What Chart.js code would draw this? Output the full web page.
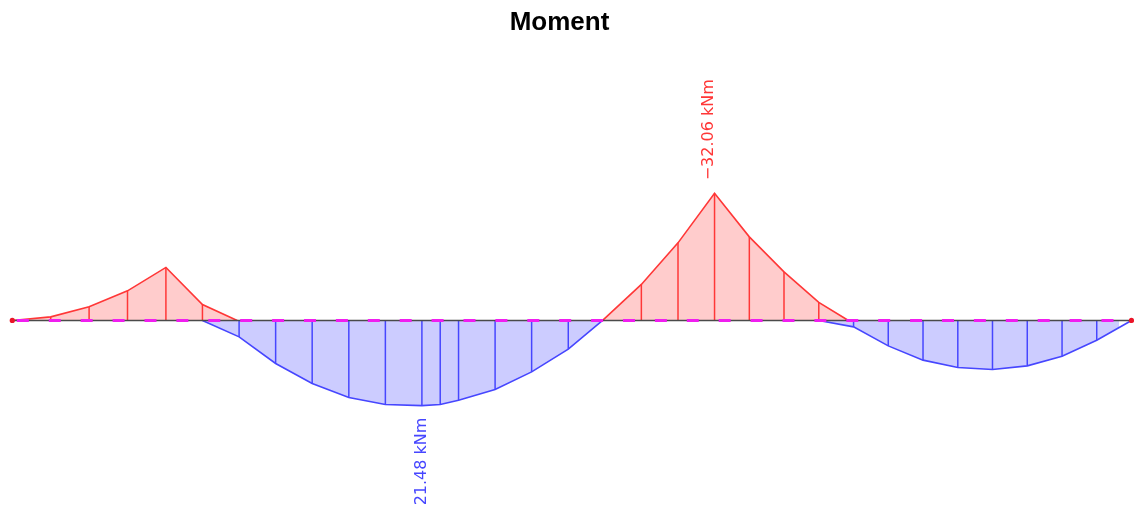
<!DOCTYPE html>
<html>
<head>
<meta charset="utf-8">
<title>Moment</title>
<script src="https://cdn.jsdelivr.net/npm/chart.js@4/dist/chart.umd.min.js"></script>
<style>
	html, body { margin: 0; padding: 0; background: #fff; }
	#wrap { width: 1134px; height: 512px; }
</style>
</head>
<body>
<div id="wrap"><canvas id="momentChart" width="1134" height="512"></canvas></div>
<script>
	'use strict';

	// beam length (m) and bending moment (kNm) at the output stations
	const beamLength = 10.2;

	// cantilever and left part of span 1 (hogging)
	const hogX1 = [0, 0.35, 0.70, 1.05, 1.40, 1.733, 2.05];
	const hogM1 = [0, -0.9, -3.43, -7.47, -13.37, -4.03, 0];

	// span 1 (sagging)
	const sagX1 = [1.733, 2.067, 2.40, 2.733, 3.067, 3.40, 3.733, 3.90, 4.067, 4.40, 4.733, 5.067, 5.38];
	const sagM1 = [0, 4.14, 10.85, 15.89, 19.42, 21.19, 21.48, 21.19, 20.1, 17.4, 12.96, 7.24, 0];

	// over the middle support (hogging)
	const hogX2 = [5.38, 5.733, 6.067, 6.40, 6.717, 7.033, 7.35, 7.62];
	const hogM2 = [0, -9.08, -19.57, -32.06, -21.08, -12.26, -4.54, 0];

	// span 2 (sagging)
	const sagX2 = [7.35, 7.667, 7.983, 8.30, 8.617, 8.933, 9.25, 9.567, 9.883, 10.20];
	const sagM2 = [0, 1.61, 6.41, 10.01, 11.85, 12.36, 11.45, 9.0, 4.97, 0];

	// beam end nodes
	const endX = [0, beamLength];

	const RED = 'rgb(255, 55, 55)';
	const RED_FILL = 'rgb(255, 204, 204)';
	const BLUE = 'rgb(70, 70, 255)';
	const BLUE_FILL = 'rgb(204, 204, 255)';

	let pts = function (xs, ys) {
		return xs.map(function (x, i) { return { x: x, y: ys[i] }; });
	};

	let area = function (xs, ys, line, fill) {
		return {
			type: 'line',
			data: pts(xs, ys),
			borderColor: line,
			backgroundColor: fill,
			borderWidth: 1.6,
			fill: 'origin',
			pointRadius: 0,
			tension: 0,
			clip: false,
			order: 4
		};
	};

	let ordinates = function (xs, ys, color) {
		return {
			type: 'bar',
			data: pts(xs, ys),
			backgroundColor: color,
			borderWidth: 0,
			barThickness: 1.5,
			grouped: false,
			inflateAmount: 0,
			clip: false,
			order: 3
		};
	};

	// extreme values get a rotated value label
	let fmt = function (v) {
		return (v < 0 ? '\u2212' : '') + Math.abs(v).toFixed(2) + ' kNm';
	};

	const peakLabels = {
		id: 'peakLabels',
		afterDatasetsDraw: function (chart) {
			let ctx = chart.ctx,
				sx = chart.scales.x,
				sy = chart.scales.y;

			let hogX = hogX1.concat(hogX2), hogM = hogM1.concat(hogM2);
			let sagX = sagX1.concat(sagX2), sagM = sagM1.concat(sagM2);
			let iMin = hogM.indexOf(Math.min.apply(null, hogM));
			let iMax = sagM.indexOf(Math.max.apply(null, sagM));

			ctx.save();
			ctx.font = '16px "DejaVu Sans", sans-serif';

			// hogging peak: text runs upward from above the point
			let px = sx.getPixelForValue(hogX[iMin]),
				py = sy.getPixelForValue(hogM[iMin]);
			ctx.save();
			ctx.translate(px - 1.5, py - 13);
			ctx.rotate(-Math.PI / 2);
			ctx.fillStyle = RED;
			ctx.textAlign = 'left';
			ctx.textBaseline = 'alphabetic';
			ctx.fillText(fmt(hogM[iMin]), 0, 0);
			ctx.restore();

			// sagging peak: text hangs below the point
			px = sx.getPixelForValue(sagX[iMax]);
			py = sy.getPixelForValue(sagM[iMax]);
			ctx.save();
			ctx.translate(px, py + 12);
			ctx.rotate(-Math.PI / 2);
			ctx.fillStyle = BLUE;
			ctx.textAlign = 'right';
			ctx.textBaseline = 'middle';
			ctx.fillText(fmt(sagM[iMax]), 0, 0);
			ctx.restore();

			// end nodes sit on the chart area edge, so they are drawn here
			ctx.fillStyle = 'rgb(235, 20, 40)';
			endX.forEach(function (x) {
				ctx.beginPath();
				ctx.arc(sx.getPixelForValue(x), sy.getPixelForValue(0), 2.6, 0, Math.PI * 2);
				ctx.fill();
			});

			ctx.restore();
		}
	};

	let ctx = document.getElementById('momentChart').getContext('2d');

	new Chart(ctx, {
		type: 'line',
		data: {
			datasets: [
				area(hogX1, hogM1, RED, RED_FILL),
				area(sagX1, sagM1, BLUE, BLUE_FILL),
				area(hogX2, hogM2, RED, RED_FILL),
				area(sagX2, sagM2, BLUE, BLUE_FILL),
				ordinates(hogX1, hogM1, RED),
				ordinates(hogX2, hogM2, RED),
				ordinates(sagX1, sagM1, BLUE),
				ordinates(sagX2, sagM2, BLUE),
				{
					// beam axis
					type: 'line',
					data: pts(endX, [0, 0]),
					borderColor: '#4a4a4a',
					borderWidth: 1.5,
					pointRadius: 0,
					fill: false,
					clip: false,
					order: 2
				},
				{
					// dashed reference line
					type: 'line',
					data: pts(endX, [0, 0]),
					borderColor: 'rgb(240, 30, 240)',
					borderWidth: 3,
					borderDash: [12, 19.9],
					borderDashOffset: 27.3,
					pointRadius: 0,
					fill: false,
					clip: false,
					order: 1
				}
			]
		},
		options: {
			responsive: false,
			animation: false,
			events: [],
			layout: {
				autoPadding: false,
				padding: { left: 0, right: 15, top: 0, bottom: 0 }
			},
			scales: {
				x: {
					type: 'linear',
					display: false,
					min: -0.112,
					max: 10.086,
					offset: false
				},
				y: {
					type: 'linear',
					display: false,
					reverse: true,
					min: -68.2,
					max: 48.3
				}
			},
			plugins: {
				legend: { display: false },
				tooltip: { enabled: false },
				title: {
					display: true,
					text: 'Moment',
					color: '#000',
					font: { family: '"Liberation Sans", Arial, sans-serif', size: 26, weight: 'bold' },
					padding: { top: 7, bottom: 11.8 }
				}
			}
		},
		plugins: [peakLabels]
	});
</script>
</body>
</html>
